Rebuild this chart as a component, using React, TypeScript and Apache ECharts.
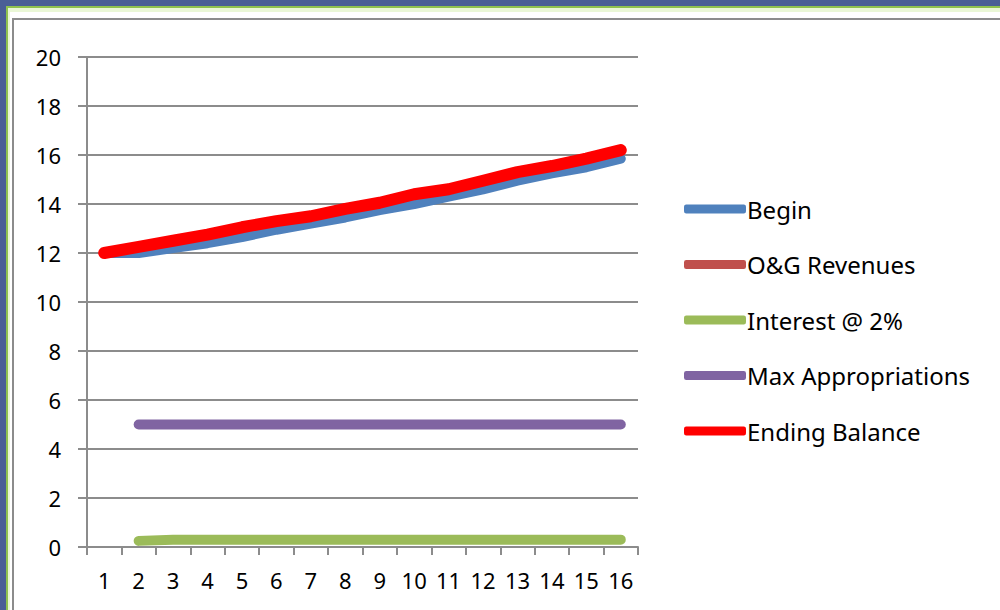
import React, { useEffect, useRef } from "react";
import * as echarts from "echarts";

const categories = ["1","2","3","4","5","6","7","8","9","10","11","12","13","14","15","16"];
const beginValues = [12.0, 12.0, 12.2, 12.4, 12.65, 12.95, 13.2, 13.45, 13.75, 14.0, 14.3, 14.6, 14.95, 15.25, 15.5, 15.85];
const ogRevenues: (number | null)[] = [null, null, null, null, null, null, null, null, null, null, null, null, null, null, null, null];
const interestValues: (number | null)[] = [null, 0.25, 0.3, 0.3, 0.3, 0.3, 0.3, 0.3, 0.3, 0.3, 0.3, 0.3, 0.3, 0.3, 0.3, 0.3];
const maxAppropriations: (number | null)[] = [null, 5, 5, 5, 5, 5, 5, 5, 5, 5, 5, 5, 5, 5, 5, 5];
const endingBalance = [12.0, 12.25, 12.5, 12.75, 13.05, 13.3, 13.5, 13.8, 14.05, 14.4, 14.6, 14.95, 15.3, 15.55, 15.85, 16.2];

const seriesNames = ["Begin", "O&G Revenues", "Interest @ 2%", "Max Appropriations", "Ending Balance"];
const seriesColors = ["#4f81bd", "#c0504d", "#9bbb59", "#8064a2", "#ff0000"];

const FONT = "'Noto Sans', 'Open Sans', sans-serif";

export default function App() {
  const ref = useRef<HTMLDivElement>(null);
  useEffect(() => {
    if (!ref.current) return;
    const chart = echarts.init(ref.current, undefined, { renderer: "svg" });
    const datasets = [beginValues, ogRevenues, interestValues, maxAppropriations, endingBalance];
    const widths = [10, 10, 10, 10, 12];
    chart.setOption({
      animation: false,
      backgroundColor: "#ffffff",
      graphic: [
        { type: "rect", z: -10, silent: true, shape: { x: 0, y: 0, width: 1000, height: 610 }, style: { fill: "#4a5f96" } },
        { type: "rect", z: -9, silent: true, shape: { x: 6, y: 6, width: 994, height: 604 }, style: { fill: "#8fc24f" } },
        { type: "rect", z: -8, silent: true, shape: { x: 8, y: 8, width: 992, height: 602 }, style: { fill: "#eaf7d6" } },
        { type: "rect", z: -7, silent: true, shape: { x: 10, y: 12, width: 990, height: 598 }, style: { fill: "#ffffff" } },
        { type: "rect", z: -6, silent: true, shape: { x: 13, y: 19, width: 1000, height: 600 }, style: { fill: "#ffffff", stroke: "#8c8c8c", lineWidth: 2 } },
      ],
      grid: { left: 87, right: 362, top: 57, bottom: 63, containLabel: false },
      legend: {
        orient: "vertical",
        left: 679,
        top: 190,
        itemWidth: 62,
        itemHeight: 9,
        itemGap: 27.5,
        icon: "roundRect",
        selectedMode: false,
        data: seriesNames,
        textStyle: { fontFamily: FONT, fontSize: 24, color: "#000", padding: [0, 0, 0, -4], lineHeight: 28 },
      },
      xAxis: {
        type: "category",
        data: categories,
        boundaryGap: true,
        axisLine: { lineStyle: { color: "#8c8c8c", width: 2 } },
        axisTick: { show: true, length: 8, lineStyle: { color: "#8c8c8c", width: 2 } },
        axisLabel: { fontFamily: FONT, fontSize: 22, color: "#000", margin: 22 },
        splitLine: { show: false },
      },
      yAxis: {
        type: "value",
        min: 0,
        max: 20,
        interval: 2,
        axisLine: { show: true, lineStyle: { color: "#8c8c8c", width: 2 } },
        axisTick: { show: true, length: 9, lineStyle: { color: "#8c8c8c", width: 2 } },
        axisLabel: { fontFamily: FONT, fontSize: 22, color: "#000", margin: 26 },
        splitLine: { show: true, lineStyle: { color: "#8c8c8c", width: 2 } },
      },
      series: seriesNames.map((name, i) => ({
        name,
        type: "line",
        data: datasets[i],
        symbol: "none",
        color: seriesColors[i],
        lineStyle: { color: seriesColors[i], width: widths[i], cap: "round", join: "round" },
        itemStyle: { color: seriesColors[i] },
        connectNulls: false,
      })),
    });
    return () => chart.dispose();
  }, []);
  return (
    <div style={{ position: "absolute", left: 0, top: 0, width: 1000, height: 610 }}>
      <div ref={ref} style={{ width: 1000, height: 610 }} />
    </div>
  );
}
